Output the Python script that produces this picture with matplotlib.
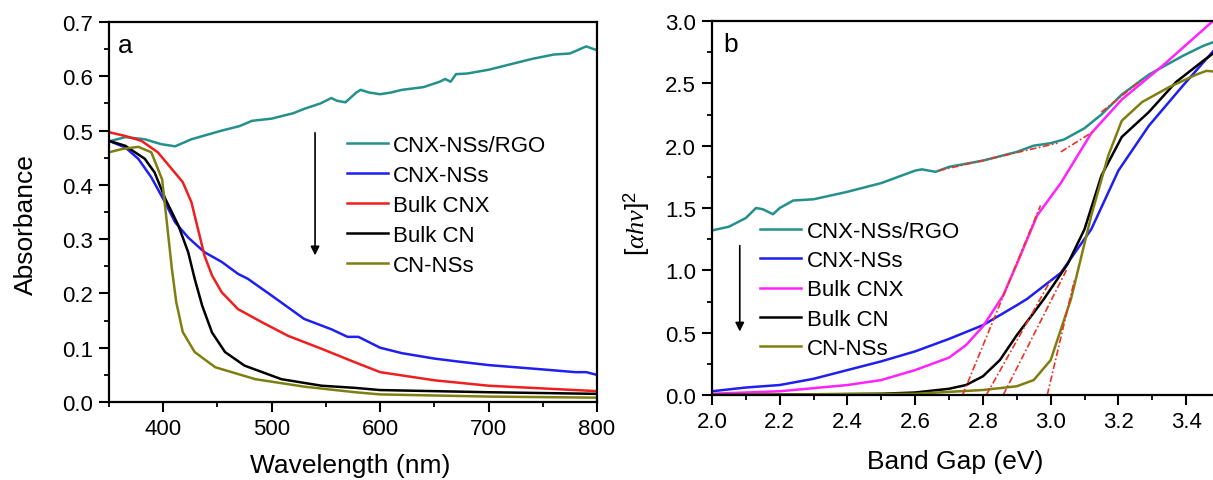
import matplotlib
matplotlib.use("Agg")
import matplotlib.pyplot as plt
from matplotlib.ticker import MultipleLocator

plt.rcParams['font.family'] = ['Liberation Sans', 'DejaVu Sans']
plt.rcParams['mathtext.fontset'] = 'custom'
plt.rcParams['mathtext.it'] = 'Liberation Serif:italic'
plt.rcParams['mathtext.rm'] = 'Liberation Sans'

labels = ["CNX-NSs/RGO", "CNX-NSs", "Bulk CNX", "Bulk CN", "CN-NSs"]
colors_a = ["#23908c", "#1f1ff0", "#f01e1e", "#000000", "#7f7f10"]
colors_b = ["#23908c", "#1f1ff0", "#ff22ff", "#000000", "#7f7f10"]

# ---- panel a: absorbance vs wavelength ----
wl_rgo = [350, 365, 383, 398, 411, 426, 440, 454, 470, 482, 500, 520, 530, 545, 555, 560, 568,
          578, 582, 590, 600, 610, 620, 640, 655, 660, 665, 670, 680, 700, 720, 740, 760, 775, 790, 800]
ab_rgo = [0.480, 0.488, 0.484, 0.475, 0.471, 0.484, 0.492, 0.500, 0.508, 0.518, 0.522, 0.532,
          0.540, 0.550, 0.560, 0.555, 0.552, 0.570, 0.575, 0.570, 0.567, 0.570, 0.575, 0.580, 0.590, 0.595,
          0.590, 0.604, 0.605, 0.612, 0.622, 0.632, 0.640, 0.642, 0.655, 0.648]

wl_cnxns = [350, 365, 377, 389, 400, 411, 423, 438, 454, 469, 478, 500, 530, 555, 570, 580,
            590, 600, 620, 650, 670, 700, 750, 780, 790, 800]
ab_cnxns = [0.481, 0.469, 0.448, 0.414, 0.374, 0.331, 0.303, 0.276, 0.258, 0.236, 0.227, 0.196,
            0.153, 0.134, 0.120, 0.120, 0.110, 0.100, 0.090, 0.080, 0.075, 0.068, 0.060, 0.055,
            0.055, 0.050]

wl_bcnx = [350, 365, 380, 395, 408, 418, 426, 432, 438, 445, 454, 469, 491, 515, 546, 577,
           600, 650, 700, 750, 800]
ab_bcnx = [0.497, 0.490, 0.481, 0.460, 0.429, 0.405, 0.368, 0.319, 0.270, 0.233, 0.202, 0.171,
           0.147, 0.122, 0.098, 0.073, 0.055, 0.040, 0.030, 0.025, 0.020]

wl_bcn = [350, 365, 383, 392, 402, 414, 423, 429, 436, 445, 457, 475, 509, 546, 577, 600, 700, 800]
ab_bcn = [0.481, 0.472, 0.448, 0.423, 0.374, 0.325, 0.276, 0.227, 0.177, 0.128, 0.092, 0.067,
          0.042, 0.030, 0.026, 0.022, 0.018, 0.015]

wl_cnns = [350, 362, 377, 389, 399, 403, 408, 412, 418, 429, 448, 485, 531, 577, 600, 700, 800]
ab_cnns = [0.460, 0.466, 0.470, 0.460, 0.410, 0.337, 0.245, 0.184, 0.129, 0.092, 0.064, 0.042,
           0.028, 0.018, 0.014, 0.010, 0.008]

# ---- panel b: (alpha h nu)^2 vs band gap ----
e_rgo = [2.00, 2.05, 2.10, 2.13, 2.15, 2.18, 2.20, 2.24, 2.30, 2.35, 2.40, 2.50, 2.60, 2.62, 2.66, 2.70,
         2.80, 2.90, 2.95, 3.00, 3.04, 3.10, 3.15, 3.21, 3.25, 3.29, 3.39, 3.45, 3.50]
v_rgo = [1.32, 1.35, 1.42, 1.50, 1.49, 1.45, 1.50, 1.56, 1.57, 1.60, 1.63, 1.70, 1.80, 1.81, 1.79, 1.83,
         1.88, 1.95, 2.00, 2.02, 2.05, 2.14, 2.25, 2.41, 2.49, 2.57, 2.72, 2.80, 2.85]

e_cnxns = [2.0, 2.1, 2.2, 2.3, 2.4, 2.5, 2.6, 2.7, 2.8, 2.9, 2.93, 3.03, 3.12, 3.2, 3.29, 3.39, 3.5]
v_cnxns = [0.03, 0.06, 0.08, 0.13, 0.20, 0.27, 0.35, 0.45, 0.56, 0.72, 0.77, 0.98, 1.33, 1.80,
           2.16, 2.48, 2.82]

e_bcnx = [2.0, 2.2, 2.4, 2.5, 2.6, 2.7, 2.75, 2.8, 2.86, 2.9, 2.96, 3.03, 3.12, 3.21, 3.33, 3.5]
v_bcnx = [0.01, 0.03, 0.08, 0.12, 0.20, 0.30, 0.40, 0.55, 0.80, 1.05, 1.44, 1.70, 2.10, 2.37,
          2.64, 3.05]

e_bcn = [2.0, 2.5, 2.6, 2.7, 2.75, 2.8, 2.85, 2.9, 2.95, 2.98, 3.05, 3.1, 3.15, 3.21, 3.29, 3.37, 3.45, 3.5]
v_bcn = [0.0, 0.01, 0.02, 0.05, 0.08, 0.15, 0.28, 0.48, 0.66, 0.77, 1.05, 1.33, 1.76, 2.07,
         2.27, 2.51, 2.68, 2.78]

e_cnns = [2.0, 2.6, 2.8, 2.9, 2.95, 3.0, 3.06, 3.12, 3.17, 3.21, 3.27, 3.35, 3.43, 3.46, 3.5]
v_cnns = [0.0, 0.01, 0.04, 0.07, 0.12, 0.28, 0.77, 1.44, 1.92, 2.20, 2.35, 2.47, 2.57, 2.60, 2.59]

# tangent (extrapolation) segments: x pairs and y pairs
tan_x = [[2.74, 2.97], [2.81, 3.00], [2.86, 3.05], [2.99, 3.07], [2.67, 3.02], [3.03, 3.13], [3.15, 3.27]]
tan_y = [[0.00, 1.52], [0.00, 0.92], [0.00, 1.02], [0.00, 0.92], [1.80, 2.02], [1.95, 2.12], [2.27, 2.53]]

fig = plt.figure(figsize=(12.13, 4.81), dpi=100)
W, H = 1213, 481
axa = fig.add_axes([109 / W, 1 - 403 / H, 488 / W, 380 / H])
axb = fig.add_axes([712 / W, 1 - 396 / H, 508 / W, 374 / H])

series_a = [(wl_rgo, ab_rgo), (wl_cnxns, ab_cnxns), (wl_bcnx, ab_bcnx), (wl_bcn, ab_bcn), (wl_cnns, ab_cnns)]
for (x, y), lab, c in zip(series_a, labels, colors_a):
    axa.plot(x, y, color=c, lw=1.8, label=lab)

series_b = [(e_rgo, v_rgo), (e_cnxns, v_cnxns), (e_bcnx, v_bcnx), (e_bcn, v_bcn), (e_cnns, v_cnns)]
for (x, y), lab, c in zip(series_b, labels, colors_b):
    axb.plot(x, y, color=c, lw=1.8, label=lab)
for x, y in zip(tan_x, tan_y):
    axb.plot(x, y, color="#f03020", lw=1.2, ls=(0, (4, 1.5, 1, 1.5)))

axa.set_xlim(350, 800)
axa.set_ylim(0, 0.7)
axa.xaxis.set_major_locator(MultipleLocator(100))
axa.xaxis.set_minor_locator(MultipleLocator(50))
axa.yaxis.set_major_locator(MultipleLocator(0.1))
axa.yaxis.set_minor_locator(MultipleLocator(0.05))
axa.set_xlabel("Wavelength (nm)", fontsize=19)
axa.set_ylabel("Absorbance", fontsize=19)
axa.xaxis.set_label_coords(0.494, -0.134)
axa.yaxis.set_label_coords(-0.145, 0.47)
axa.text(0.018, 0.921, "a", transform=axa.transAxes, fontsize=19, va="baseline")
axa.legend(loc="upper left", bbox_to_anchor=(0.446, 0.755), frameon=False, fontsize=16,
           handlelength=1.85, labelspacing=0.40, handletextpad=0.25)
axa.annotate("", xy=(540, 0.265), xytext=(540, 0.501),
             arrowprops=dict(arrowstyle="-|>", color="black", lw=1.2, mutation_scale=13))

axb.set_xlim(2.0, 3.5)
axb.set_ylim(0, 3.0)
axb.xaxis.set_major_locator(MultipleLocator(0.2))
axb.xaxis.set_minor_locator(MultipleLocator(0.1))
axb.yaxis.set_major_locator(MultipleLocator(0.5))
axb.yaxis.set_minor_locator(MultipleLocator(0.25))
axb.set_xlabel("Band Gap (eV)", fontsize=19)
axb.set_ylabel(r"$[\alpha h\nu]^2$", fontsize=19)
axb.xaxis.set_label_coords(0.478, -0.144)
axb.yaxis.set_label_coords(-0.118, 0.46)
axb.text(0.022, 0.92, "b", transform=axb.transAxes, fontsize=19, va="baseline")
axb.legend(loc="upper left", bbox_to_anchor=(0.055, 0.519), frameon=False, fontsize=16,
           handlelength=1.85, labelspacing=0.37, handletextpad=0.27)
axb.annotate("", xy=(2.082, 0.487), xytext=(2.082, 1.22),
             arrowprops=dict(arrowstyle="-|>", color="black", lw=1.2, mutation_scale=13))

for ax in (axa, axb):
    ax.tick_params(which="major", direction="out", length=7, width=1.5, labelsize=16,
                   pad=4.5, top=False, right=False)
    ax.tick_params(which="minor", direction="out", length=3.5, width=1.3, top=False, right=False)
    for s in ax.spines.values():
        s.set_linewidth(1.6)

fig.savefig("out.png", dpi=100)
